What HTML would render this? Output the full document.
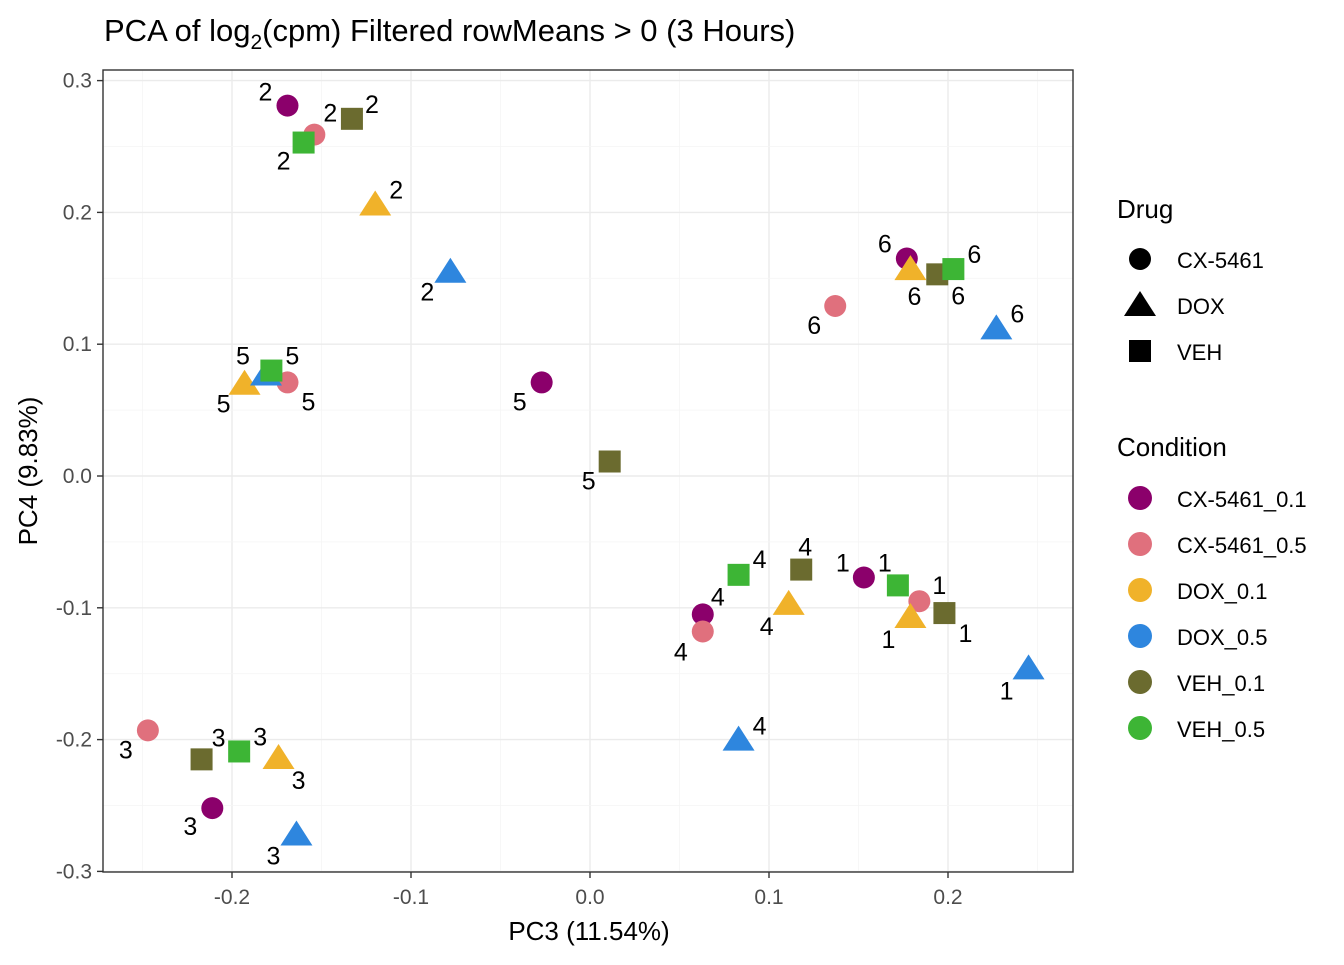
<!DOCTYPE html>
<html><head><meta charset="utf-8"><style>
body{margin:0;background:#fff;}
svg text{font-family:"Liberation Sans",Arial,sans-serif;}
</style></head><body>
<svg id="chart" width="1344" height="960" xmlns="http://www.w3.org/2000/svg">
<rect width="1344" height="960" fill="#fff"/>
<text x="104" y="41" font-size="31" fill="#000">PCA of log<tspan font-size="21" dy="8">2</tspan><tspan dy="-8">(cpm) Filtered rowMeans &gt; 0 (3 Hours)</tspan></text>
<g id="grid"></g>
<g id="axes"></g>
<g id="marks"></g>
<rect x="103" y="70" width="970" height="802" fill="none" stroke="#333" stroke-width="1.4"/>
<text x="589" y="940" font-size="26" text-anchor="middle">PC3 (11.54%)</text>
<text x="37" y="471" font-size="26" text-anchor="middle" transform="rotate(-90 37 471)">PC4 (9.83%)</text>
<g id="legend"></g>
</svg>
<script>
const groups = ["1","2","3","4","5","6"];
const conditions = ["CX-5461_0.1","CX-5461_0.5","DOX_0.1","DOX_0.5","VEH_0.1","VEH_0.5"];
const condColors = ["#8B006B","#E0707D","#F0B22A","#2E86DE","#6B6B2F","#3DB535"];
const drugs = ["CX-5461","DOX","VEH"];
const pointCond = [0,5,1,2,4,3, 0,1,4,5,2,3, 1,4,5,2,0,3, 0,1,5,4,2,3, 0,1,2,3,5,4, 0,1,2,4,5,3];
const pointGroup = [0,0,0,0,0,0, 1,1,1,1,1,1, 2,2,2,2,2,2, 3,3,3,3,3,3, 4,4,4,4,4,4, 5,5,5,5,5,5];
const pc3 = [0.153,0.172,0.184,0.179,0.198,0.245, -0.169,-0.154,-0.133,-0.160,-0.120,-0.078, -0.247,-0.217,-0.196,-0.174,-0.211,-0.164, 0.063,0.063,0.083,0.118,0.111,0.083, -0.027,-0.169,-0.193,-0.181,-0.178,0.011, 0.177,0.137,0.179,0.194,0.203,0.227];
const pc4 = [-0.077,-0.083,-0.095,-0.107,-0.104,-0.146, 0.281,0.259,0.271,0.253,0.206,0.155, -0.193,-0.215,-0.209,-0.214,-0.252,-0.272, -0.105,-0.118,-0.075,-0.071,-0.097,-0.200, 0.071,0.071,0.070,0.077,0.080,0.011, 0.165,0.129,0.157,0.153,0.157,0.112];
const labDx = [-21,-13,20,-22,21,-22, -22,16,20,-20,21,-23, -22,17,21,20,-22,-23, 15,-22,21,4,-22,21, -22,21,-21,-23,21,-21, -22,-21,4,21,21,21];
const labDy = [-15,-23,-16,28,20,28, -14,-22,-15,18,-9,26, 19,-22,-15,28,18,27, -18,20,-16,-23,28,-8, 19,19,26,-13,-15,19, -15,19,33,21,-15,-9];
const xTicks = [-0.2,-0.1,0.0,0.1,0.2];
const yTicks = [-0.3,-0.2,-0.1,0.0,0.1,0.2,0.3];
const xTickLabels = ["-0.2","-0.1","0.0","0.1","0.2"];
const yTickLabels = ["-0.3","-0.2","-0.1","0.0","0.1","0.2","0.3"];

const NS="http://www.w3.org/2000/svg";
const X = v => 590 + v*1790;
const Y = v => 476 - v*1318;
function mk(tag, attrs, parent){const e=document.createElementNS(NS,tag);for(const k in attrs)e.setAttribute(k,attrs[k]);parent.appendChild(e);return e;}
const grid=document.getElementById('grid'), axes=document.getElementById('axes'), marks=document.getElementById('marks'), leg=document.getElementById('legend');

for(let i=0;i<xTicks.length;i++){
  const x=X(xTicks[i]);
  const l=mk('line',{x1:x,x2:x,y1:70,y2:872,stroke:'#EBEBEB','stroke-width':1.4},grid);
  
  
  const m=mk('line',{x1:X(xTicks[i]+0.05),x2:X(xTicks[i]+0.05),y1:70,y2:872,stroke:'#F5F5F5','stroke-width':0.8},grid);
  
  
  mk('line',{x1:x,x2:x,y1:872,y2:878,stroke:'#333','stroke-width':1.4},axes);
  const t=mk('text',{x:x,y:904,'font-size':21,'text-anchor':'middle',fill:'#4D4D4D'},axes);
  t.textContent=xTickLabels[i];
  
  
}
mk('line',{x1:X(-0.25),x2:X(-0.25),y1:70,y2:872,stroke:'#F5F5F5','stroke-width':0.8},grid);
for(let i=0;i<yTicks.length;i++){
  const y=Y(yTicks[i]);
  const l=mk('line',{x1:103,x2:1073,y1:y,y2:y,stroke:'#EBEBEB','stroke-width':1.4},grid);
  
  
  if(i<yTicks.length-1){
    const m=mk('line',{x1:103,x2:1073,y1:Y(yTicks[i]+0.05),y2:Y(yTicks[i]+0.05),stroke:'#F5F5F5','stroke-width':0.8},grid);
    
    
  }
  mk('line',{x1:97,x2:103,y1:y,y2:y,stroke:'#333','stroke-width':1.4},axes);
  const t=mk('text',{x:92,y:y+7,'font-size':21,'text-anchor':'end',fill:'#4D4D4D'},axes);
  t.textContent=yTickLabels[i];
  
  
}
function shape(drug,cx,cy,color,parent){
  if(drug===0) return mk('circle',{cx:cx,cy:cy,r:11,fill:color},parent);
  if(drug===1) return mk('polygon',{points:`${cx},${cy-14} ${cx-16},${cy+11} ${cx+16},${cy+11}`,fill:color},parent);
  return mk('rect',{x:cx-11,y:cy-11,width:22,height:22,fill:color},parent);
}
for(let i=0;i<pc3.length;i++){
  const c=pointCond[i], d=Math.floor(c/2);
  const cx=X(pc3[i]), cy=Y(pc4[i]);
  const p=shape(d,cx,cy,condColors[c],marks);
  
  
}
for(let i=0;i<pc3.length;i++){
  const d=Math.floor(pointCond[i]/2);
  const adj = d===1 ? -6 : 0;
  const t=mk('text',{x:X(pc3[i])+labDx[i],y:Y(pc4[i])+labDy[i]+9+adj,'font-size':25,'text-anchor':'middle',fill:'#000'},marks);
  t.textContent=groups[pointGroup[i]];
  
  
}
let t=mk('text',{x:1117,y:218,'font-size':26},leg); t.textContent='Drug';


for(let i=0;i<drugs.length;i++){
  const cy=259+i*46;
  const s=shape(i,1140,cy,'#000',leg);
  
  
  const tx=mk('text',{x:1177,y:cy+9,'font-size':22},leg); tx.textContent=drugs[i];
  
  
}
t=mk('text',{x:1117,y:456,'font-size':26},leg); t.textContent='Condition';


for(let i=0;i<conditions.length;i++){
  const cy=498+i*46;
  const s=mk('circle',{cx:1140,cy:cy,r:12,fill:condColors[i]},leg);
  
  
  const tx=mk('text',{x:1177,y:cy+9,'font-size':22},leg); tx.textContent=conditions[i];
  
  
}
</script>
</body></html>
